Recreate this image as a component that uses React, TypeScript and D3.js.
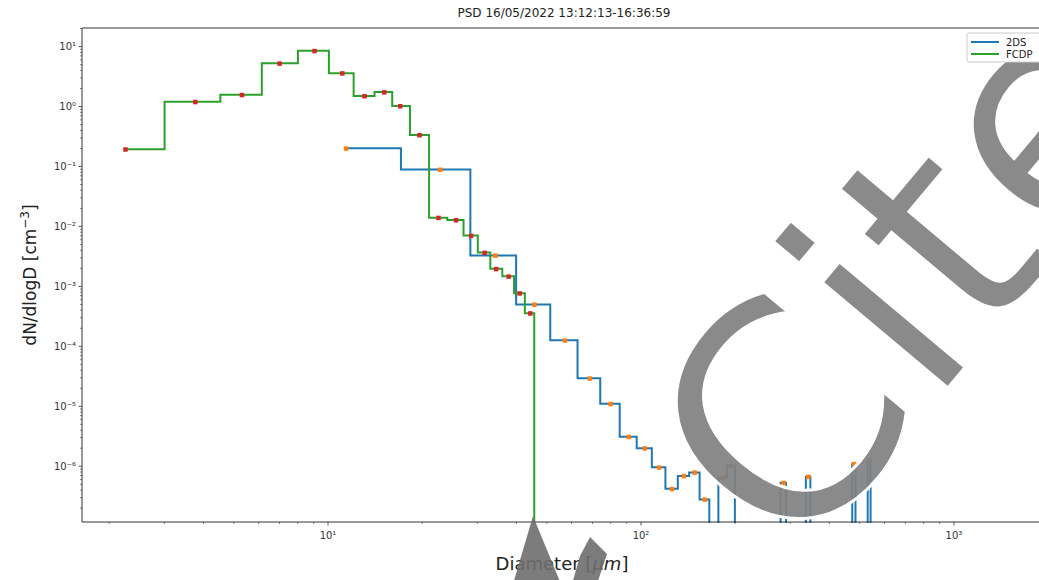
import React from 'react'
import * as d3 from 'd3'

const W = 1039
const H = 580
const margin = { left: 82, top: 28, right: 1046, bottom: 522 }

// FCDP bin centres (µm) and dN/dlogD (cm^-3)
const fcdpD = [2.25, 3.76, 5.3, 6.99, 9.04, 11.09, 13.06, 15.1, 16.98, 19.57, 22.5, 25.6, 28.6, 31.6, 34.4, 37.7, 40.9, 44.2, 47.0]
const fcdpN = [0.194, 1.2, 1.57, 5.25, 8.5, 3.6, 1.5, 1.74, 1.02, 0.335, 0.014, 0.0128, 0.00703, 0.00366, 0.00196, 0.00147, 7.7e-4, 3.57e-4, 0]

// 2DS bin centres (µm) and dN/dlogD (cm^-3)
const twodsD = [11.4, 22.8, 34.2, 45.6, 57, 68.4, 79.8, 91.2, 102.6, 114, 125.4, 136.8, 148.2, 159.6, 171, 182.4, 193.8, 205.2, 216.6, 228, 239.4, 250.8, 262.2, 273.6, 285, 296.4, 307.8, 319.2, 330.6, 342, 353.4, 364.8, 376.2, 387.6, 399, 410.4, 421.8, 433.2, 444.6, 456, 467.4, 478.8, 490.2, 501.6, 513, 524.4, 535.8, 547.2]
const twodsN = [0.201, 0.089, 0.00329, 5.0e-4, 1.26e-4, 2.93e-5, 1.10e-5, 3.1e-6, 2.0e-6, 9.6e-7, 4.2e-7, 6.9e-7, 7.9e-7, 2.8e-7, 0, 6.4e-7, 1.02e-6, 0, 0, 0, 0, 0, 0, 0, 5.3e-7, 0, 0, 0, 0, 6.7e-7, 0, 0, 0, 0, 0, 0, 0, 0, 0, 0, 0, 1.1e-6, 0, 0, 0, 0, 1.28e-6, 0]

const yTickExps = [1, 0, -1, -2, -3, -4, -5, -6]
const xTickExps = [1, 2, 3]
const supMap: Record<string, string> = { '-': '\u207B', '0': '\u2070', '1': '\u00B9', '2': '\u00B2', '3': '\u00B3', '4': '\u2074', '5': '\u2075', '6': '\u2076' }
const sup = (n: number) => String(n).split('').map(c => supMap[c]).join('')

const x = d3.scaleLog().domain([Math.pow(10, 0.214), Math.pow(10, 3.294)]).range([margin.left, margin.right])
const y = d3.scaleLog().domain([Math.pow(10, -6.93), Math.pow(10, 1.31)]).range([margin.bottom, margin.top])

// matplotlib step(where='mid'): transitions at linear midpoints
function stepMid(ds: number[], ns: number[]) {
  const py = (v: number) => (v > 0 ? y(v) : H + 50)
  const pts: [number, number][] = [[x(ds[0]), py(ns[0])]]
  for (let i = 1; i < ds.length; i++) {
    const m = x((ds[i - 1] + ds[i]) / 2)
    pts.push([m, py(ns[i - 1])], [m, py(ns[i])])
  }
  pts.push([x(ds[ds.length - 1]), py(ns[ns.length - 1])])
  return d3.line()(pts) as string
}

const font = 'DejaVu Sans, sans-serif'

export default function App() {
  const minorY: number[] = []
  for (let e = -7; e <= 1; e++) for (let k = 2; k <= 9; k++) {
    const v = k * Math.pow(10, e)
    if (v > y.domain()[0] && v < y.domain()[1]) minorY.push(v)
  }
  const minorX: number[] = []
  for (let e = 0; e <= 3; e++) for (let k = 2; k <= 9; k++) {
    const v = k * Math.pow(10, e)
    if (v > x.domain()[0] && v < x.domain()[1]) minorX.push(v)
  }
  return (
    <svg width={W} height={H} style={{ position: 'absolute', left: 0, top: 0, background: '#fff' }} fontFamily={font}>
      <defs>
        <clipPath id="plot">
          <rect x={margin.left} y={margin.top} width={margin.right - margin.left} height={margin.bottom - margin.top + 1} />
        </clipPath>
      </defs>
      <text x={(margin.left + margin.right) / 2} y={17} textAnchor="middle" fontSize={12} fill="#222">PSD 16/05/2022 13:12:13-16:36:59</text>

      <g clipPath="url(#plot)">
        <path d={stepMid(twodsD, twodsN)} fill="none" stroke="#1f77b4" strokeWidth={2} />
        <path d={stepMid(fcdpD, fcdpN)} fill="none" stroke="#2ca02c" strokeWidth={2} />
        {twodsD.map((d, i) => twodsN[i] > 0 && (
          <rect key={'o' + i} x={x(d) - 2} y={y(twodsN[i]) - 2} width={4.5} height={4.5} fill="#ff7f0e" />
        ))}
        {fcdpD.map((d, i) => fcdpN[i] > 0 && (
          <rect key={'r' + i} x={x(d) - 2} y={y(fcdpN[i]) - 2} width={4.5} height={4.5} fill="#d62728" />
        ))}
      </g>

      {/* axes frame */}
      <line x1={margin.left} x2={margin.right} y1={margin.top} y2={margin.top} stroke="#333" strokeWidth={1} />
      <line x1={margin.left} x2={margin.left} y1={margin.top} y2={margin.bottom} stroke="#333" strokeWidth={1} />
      <line x1={margin.left} x2={margin.right} y1={margin.bottom} y2={margin.bottom} stroke="#333" strokeWidth={1} />

      {minorY.map(v => (
        <line key={'my' + v} x1={margin.left - 2} x2={margin.left} y1={y(v)} y2={y(v)} stroke="#333" strokeWidth={0.6} />
      ))}
      {yTickExps.map(e => (
        <g key={'y' + e}>
          <line x1={margin.left - 3.5} x2={margin.left} y1={y(Math.pow(10, e))} y2={y(Math.pow(10, e))} stroke="#333" strokeWidth={0.8} />
          <text x={margin.left - 6} y={y(Math.pow(10, e)) + 3.5} textAnchor="end" fontSize={10} fill="#333">{'10' + sup(e)}</text>
        </g>
      ))}
      {minorX.map(v => (
        <line key={'mx' + v} x1={x(v)} x2={x(v)} y1={margin.bottom} y2={margin.bottom + 2} stroke="#333" strokeWidth={0.6} />
      ))}
      {xTickExps.map(e => (
        <g key={'x' + e}>
          <line x1={x(Math.pow(10, e))} x2={x(Math.pow(10, e))} y1={margin.bottom} y2={margin.bottom + 3.5} stroke="#333" strokeWidth={0.8} />
          <text x={x(Math.pow(10, e))} y={margin.bottom + 17} textAnchor="middle" fontSize={10} fill="#333">{'10' + sup(e)}</text>
        </g>
      ))}

      <text x={(margin.left + margin.right) / 2 - 2} y={570} textAnchor="middle" fontSize={18} fill="#222">
        Diameter [<tspan fontStyle="italic">μm</tspan>]
      </text>
      <text transform={`translate(36,${(margin.top + margin.bottom) / 2}) rotate(-90)`} textAnchor="middle" fontSize={17} fill="#222">
        dN/dlogD [cm<tspan fontSize={12} dy={-7}>{'\u2212'}3</tspan><tspan dy={7}>]</tspan>
      </text>

      {/* overlay watermark */}
      <text transform="translate(795,570) rotate(-50)" fontSize={300} fill="#808080" fillOpacity={0.92} stroke="#fff" strokeWidth={3} fontFamily={font}>Cite</text>
      <polygon points="533,516 547,550 561,584 513,584 523,550" fill="#6e6e6e" fillOpacity={0.9} />
      <polygon points="590,537 607,554 597,584 572,584 580,556" fill="#6e6e6e" fillOpacity={0.9} />

      {/* legend */}
      <g>
        <rect x={967} y={33} width={90} height={29} rx={2} fill="#fff" stroke="#ccc" />
        <line x1={971} x2={999} y1={42} y2={42} stroke="#1f77b4" strokeWidth={2} />
        <line x1={971} x2={999} y1={54} y2={54} stroke="#2ca02c" strokeWidth={2} />
        <text x={1006} y={45.5} fontSize={10} fill="#222">2DS</text>
        <text x={1006} y={57.5} fontSize={10} fill="#222">FCDP</text>
      </g>
    </svg>
  )
}
